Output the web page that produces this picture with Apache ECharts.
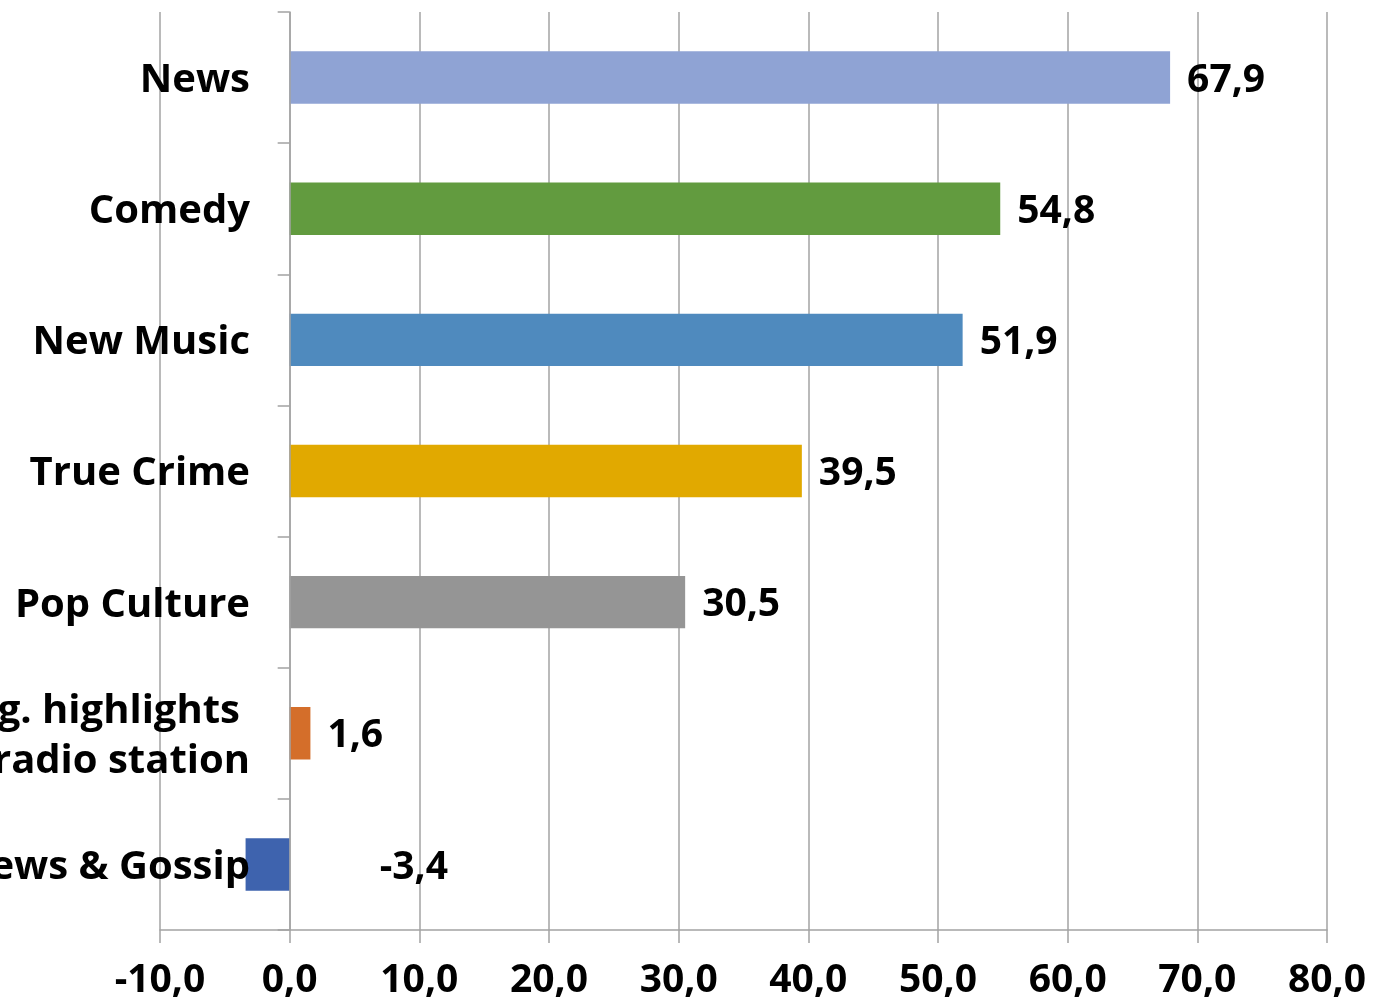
<!DOCTYPE html>
<html>
<head>
<meta charset="utf-8">
<script src="https://cdn.jsdelivr.net/npm/echarts@6/dist/echarts.min.js"></script>
<style>
html,body{margin:0;padding:0;background:#fff;}
#chart{width:1386px;height:1003px;}
</style>
</head>
<body>
<div id="chart"></div>
<script>
const categories = ['News', 'Comedy', 'New Music', 'True Crime', 'Pop Culture', 'Shows, e.g. highlights\nfrom a radio station', 'Celebrity News & Gossip'];
const values = [67.9, 54.8, 51.9, 39.5, 30.5, 1.6, -3.4];
const colors = ['#8FA3D4', '#629B3F', '#4F8ABE', '#E1A900', '#959595', '#D46E2A', '#3E63AE'];
const tickValues = [-10, 0, 10, 20, 30, 40, 50, 60, 70, 80];

const FONT = 'Open Sans';
const fmt = v => v.toFixed(1).replace('.', ',');

const chart = echarts.init(document.getElementById('chart'));
chart.setOption({
  animation: false,
  backgroundColor: '#fff',
  grid: { left: 160, right: 59, top: 12, bottom: 73, containLabel: false, outerBoundsMode: 'none' },
  xAxis: {
    type: 'value',
    min: tickValues[0],
    max: tickValues[tickValues.length - 1],
    interval: 10,
    axisLine: { show: true, onZero: false, lineStyle: { color: '#a3a3a3', width: 1.5 } },
    axisTick: { show: true, length: 13, lineStyle: { color: '#a3a3a3', width: 1.5 } },
    splitLine: { show: true, lineStyle: { color: '#a3a3a3', width: 1.5 } },
    axisLabel: {
      formatter: fmt,
      fontFamily: FONT, fontWeight: 'bold', fontSize: 39, color: '#000', margin: 31
    }
  },
  yAxis: {
    type: 'category',
    inverse: true,
    z: 5,
    data: categories,
    axisLine: { show: true, onZero: true, lineStyle: { color: '#a3a3a3', width: 1.5 } },
    axisTick: { show: true, length: 12, lineStyle: { color: '#a3a3a3', width: 1.5 } },
    splitLine: { show: false },
    axisLabel: {
      margin: -90,
      fontFamily: FONT, fontWeight: 'bold', fontSize: 40, color: '#000',
      lineHeight: 50,
      formatter: function (v) {
        const parts = v.split('\n');
        if (parts.length === 1) return '{a|' + v + '}';
        return '{b|' + parts[0] + '}\n{a|' + parts[1] + '}';
      },
      rich: {
        a: { fontFamily: FONT, fontWeight: 'bold', fontSize: 40, color: '#000', lineHeight: 50 },
        b: { fontFamily: FONT, fontWeight: 'bold', fontSize: 40, color: '#000', lineHeight: 50, padding: [0, 10, 0, 0] }
      },
      padding: [6, 0, 0, 0]
    }
  },
  series: [{
    type: 'bar',
    z: 2,
    barWidth: '40%',
    data: values.map((v, i) => ({
      value: v,
      itemStyle: { color: colors[i] },
      label: v < 0 ? { offset: [73, 3] } : undefined
    })),
    label: {
      show: true,
      position: 'right',
      distance: 17,
      offset: [0, 3],
      formatter: p => fmt(p.value),
      fontFamily: FONT, fontWeight: 'bold', fontSize: 39, color: '#000'
    }
  }]
});
</script>
</body>
</html>
